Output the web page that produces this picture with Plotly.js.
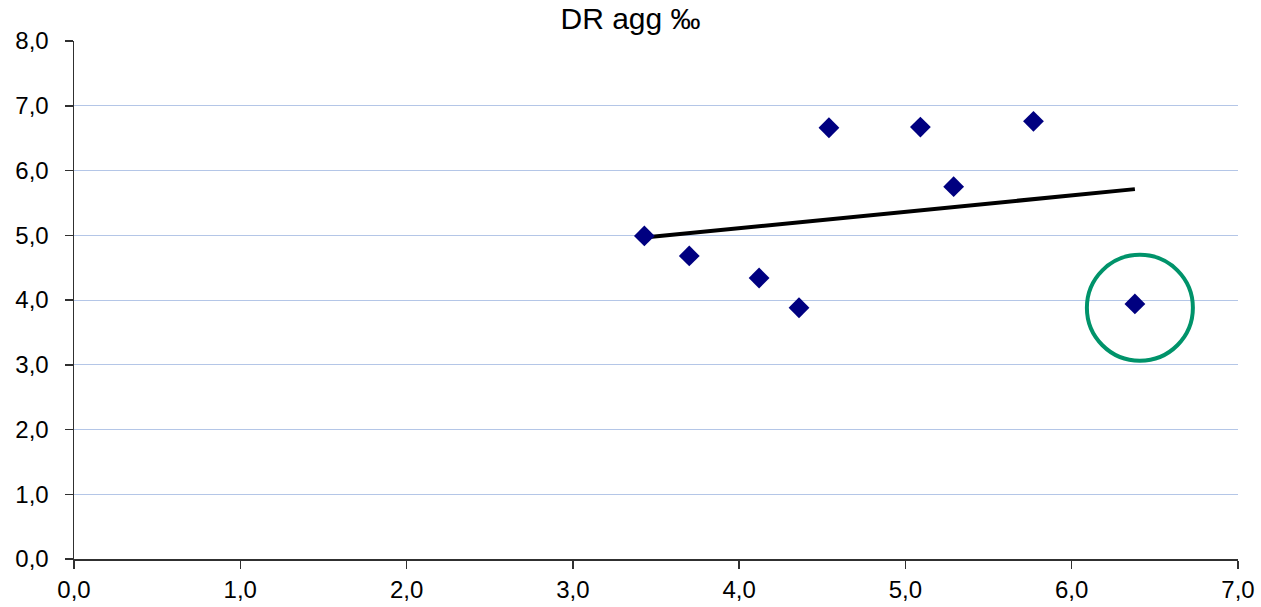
<!DOCTYPE html>
<html>
<head>
<meta charset="utf-8">
<script src="https://cdn.plot.ly/plotly-3.0.1.min.js"></script>
<style>html,body{margin:0;padding:0;background:#fff;}#chart{width:1261px;height:607px;}</style>
</head>
<body>
<div id="chart"></div>
<script>
// Data
const xValues = [3.43, 3.70, 4.12, 4.36, 4.54, 5.09, 5.29, 5.77, 6.38];
const yValues = [4.99, 4.68, 4.34, 3.88, 6.66, 6.67, 5.75, 6.76, 3.94];
const chartTitle = 'DR agg ‰';
const highlightedPoint = {x: 6.41, y: 3.88};

// Least-squares trend line over the data range
const n = xValues.length;
const mx = xValues.reduce((a, b) => a + b, 0) / n;
const my = yValues.reduce((a, b) => a + b, 0) / n;
let sxy = 0, sxx = 0;
for (let i = 0; i < n; i++) { sxy += (xValues[i] - mx) * (yValues[i] - my); sxx += (xValues[i] - mx) ** 2; }
const slope = sxy / sxx, icpt = my - slope * mx;
const xmin = Math.min(...xValues), xmax = Math.max(...xValues);
const trendX = [xmin, xmax];
const trendY = trendX.map(v => icpt + slope * v);

const traces = [
  {x: trendX, y: trendY, mode: 'lines', type: 'scatter', line: {color: '#000000', width: 4}, hoverinfo: 'skip'},
  {x: xValues, y: yValues, mode: 'markers', type: 'scatter', marker: {symbol: 'diamond', size: 16, color: '#000080'}}
];

const font = {family: 'Liberation Sans, Arial, sans-serif', color: '#000000', size: 24};
const layout = {
  width: 1261, height: 607,
  margin: {l: 74, r: 23, t: 41, b: 48},
  paper_bgcolor: '#ffffff', plot_bgcolor: '#ffffff',
  showlegend: false,
  separators: ',.',
  font: font,
  title: {text: chartTitle, x: 0.5, xanchor: 'center', y: 0.987, yanchor: 'top', font: {family: font.family, size: 30, color: '#000'}},
  xaxis: {
    range: [0, 7], dtick: 1, tick0: 0, tickformat: '.1f',
    showgrid: false, zeroline: false,
    showline: true, linecolor: '#303030', linewidth: 1.5,
    ticks: 'outside', ticklen: 8, tickcolor: '#303030', tickwidth: 1.5,
    tickfont: font, ticklabelstandoff: 1
  },
  yaxis: {
    range: [0, 8], dtick: 1, tick0: 0, tickformat: '.1f',
    showgrid: true, gridcolor: '#b4c6e7', gridwidth: 1, zeroline: false,
    showline: true, linecolor: '#303030', linewidth: 1.5,
    ticks: 'outside', ticklen: 8, tickcolor: '#303030', tickwidth: 1.5,
    tickfont: font, ticklabelstandoff: 11
  },
  shapes: [{
    type: 'circle', xref: 'x', yref: 'y',
    xsizemode: 'pixel', ysizemode: 'pixel',
    xanchor: highlightedPoint.x, yanchor: highlightedPoint.y,
    x0: -53, x1: 53, y0: -53, y1: 53,
    line: {color: '#00936a', width: 4}
  }]
};

Plotly.newPlot('chart', traces, layout, {displayModeBar: false, staticPlot: true});
</script>
</body>
</html>
